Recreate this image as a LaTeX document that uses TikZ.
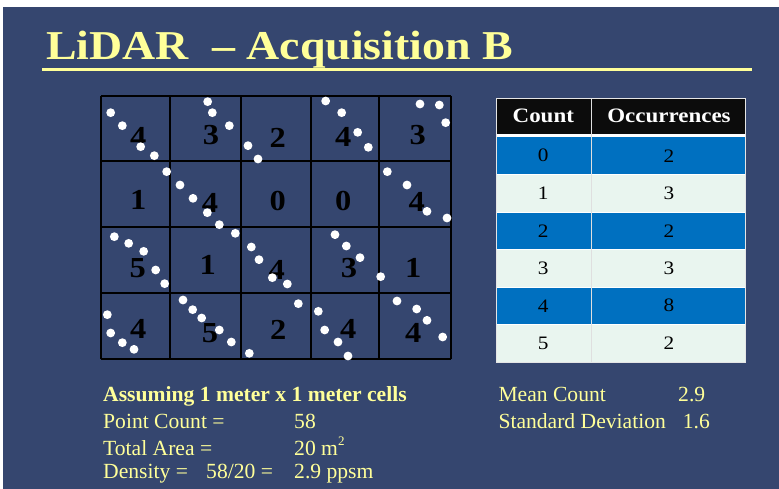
\documentclass[tikz,border=0pt]{standalone}
\usepackage{fontspec}
\setmainfont{Liberation Serif}
\newfontfamily\georgia[FakeStretch=1.12]{Liberation Serif}
\definecolor{navy}{RGB}{53,70,111}
\definecolor{ltyellow}{RGB}{255,255,153}
\definecolor{tblue}{RGB}{0,112,192}
\definecolor{tlight}{RGB}{233,245,239}
\definecolor{thead}{RGB}{12,12,12}
\begin{document}
\begin{tikzpicture}[x=1pt,y=-1pt,
  titletext/.style={anchor=base west,inner sep=0pt,text=ltyellow,font=\georgia\bfseries\fontsize{41}{45}\selectfont},
  celldigit/.style={inner sep=0pt,text=black,font=\georgia\bfseries\fontsize{29}{31}\selectfont},
  gridline/.style={black,line width=2.2pt},
  pointdot/.style={white},
  headtext/.style={inner sep=0pt,text=white,font=\georgia\bfseries\fontsize{20.5}{22}\selectfont},
  tabtext/.style={inner sep=0pt,text=black,font=\georgia\fontsize{19}{21}\selectfont},
  bodytext/.style={anchor=base west,inner sep=0pt,text=ltyellow,font=\fontsize{21.6}{25}\selectfont},
  boldtext/.style={bodytext,font=\bfseries\fontsize{21.6}{25}\selectfont}]
\useasboundingbox (0,0) rectangle (779,489);
\fill[white] (0,0) rectangle (779,489);
\fill[navy] (3,7) rectangle (779,489);
% title
\node[titletext] (title) at (46,59.5) {LiDAR\ \ – Acquisition B};
\draw[ltyellow,line width=3pt] (42,69.5) -- (752,69.5);
% grid
\foreach \gx in {101,169.7,240.7,310.7,379,451}
  \draw[gridline] (\gx,96) -- (\gx,359.3);
\foreach \gy in {96,161.3,227.3,293.3,359.3}
  \draw[gridline] (101,\gy) -- (451,\gy);
\begin{scope}[shift={(95,90)},x=0.33333pt,y=-0.33333pt]
  % digits
  \node[celldigit] (d11) at (130,140) {4};
  \node[celldigit] (d12) at (348,135) {3};
  \node[celldigit] (d13) at (548,145) {2};
  \node[celldigit] (d14) at (745,140) {4};
  \node[celldigit] (d15) at (968,135) {3};
  \node[celldigit] (d21) at (130,330) {1};
  \node[celldigit] (d22) at (345,340) {4};
  \node[celldigit] (d23) at (548,333) {0};
  \node[celldigit] (d24) at (745,333) {0};
  \node[celldigit] (d25) at (965,335) {4};
  \node[celldigit] (d31) at (128,535) {5};
  \node[celldigit] (d32) at (338,525) {1};
  \node[celldigit] (d33) at (545,540) {4};
  \node[celldigit] (d34) at (762,535) {3};
  \node[celldigit] (d35) at (955,535) {1};
  \node[celldigit] (d41) at (130,718) {4};
  \node[celldigit] (d42) at (345,730) {5};
  \node[celldigit] (d43) at (550,720) {2};
  \node[celldigit] (d44) at (760,718) {4};
  \node[celldigit] (d45) at (955,728) {4};
  % points
  \foreach \px/\py in {47/68,82/107,137/170,178/197,
      338/35,352/68,403/107,
      459/167,489/207,
      692/33,740/68,788/127,820/172,
      975/42,1033/45,1052/98,
      215/245,
      255/285,294/325,337/368,373/404,
      877/245,936/285,996/364,1056/384,
      58/440,101/460,146/484,182/540,209/581,
      421/430,
      469/471,492/509,532/563,577/582,
      720/434,754/468,795/503,
      857/560,
      37/674,47/729,82/758,117/778,
      264/630,293/659,320/684,373/720,409/756,
      610/641,463/790,
      670/664,689/720,729/756,759/798,
      906/633,965/657,996/691,1043/741}
    \fill[pointdot] (\px,\py) circle (4.4pt);
\end{scope}
% table
\fill[thead] (496,99) rectangle (745,134.5);
\fill[white] (496,134.5) rectangle (745,137);
\foreach \i/\c in {0/tblue,1/tlight,2/tblue,3/tlight,4/tblue,5/tlight}
  \fill[\c] (496,137+37.5*\i) rectangle (745,137+37.5*\i+37.5);
\foreach \i in {1,...,5}
  \draw[white,line width=0.8pt] (496,137+37.5*\i) -- (745,137+37.5*\i);
\draw[white!75!gray,line width=0.8pt] (591.7,99) -- (591.7,362);
\draw[white!80!gray,line width=1pt] (496,99) rectangle (745,362);
\node[headtext] (hcount) at (543.3,116) {Count};
\node[headtext] (hocc) at (669,116) {Occurrences};
\foreach \i/\a/\b in {0/0/2,1/1/3,2/2/2,3/3/3,4/4/8,5/5/2}{
  \node[tabtext] (c\i) at (543.3,155.75+37.5*\i) {\a};
  \node[tabtext] (o\i) at (669,155.75+37.5*\i) {\b};
}
% bottom-left text
\node[boldtext] (assume) at (103,401.7) {Assuming 1 meter x 1 meter cells};
\node[bodytext] (pcl) at (103,428.3) {Point Count =};
\node[bodytext] (pcv) at (294,428.3) {58};
\node[bodytext] (tal) at (103,455) {Total Area =};
\node[bodytext] (tav) at (294,455) {20 m\raisebox{0.42em}{\fontsize{13}{13}\selectfont 2}};
\node[bodytext] (dl) at (103,478.8) {Density =};
\node[bodytext] (dm) at (206,478.8) {58/20 =};
\node[bodytext] (dv) at (294,478.8) {2.9 ppsm};
% bottom-right text
\node[bodytext] (mcl) at (498.3,401.7) {Mean Count};
\node[bodytext] (mcv) at (678,401.7) {2.9};
\node[bodytext] (sdl) at (498.3,428.3) {Standard Deviation};
\node[bodytext] (sdv) at (682.7,428.3) {1.6};
\end{tikzpicture}
\end{document}
